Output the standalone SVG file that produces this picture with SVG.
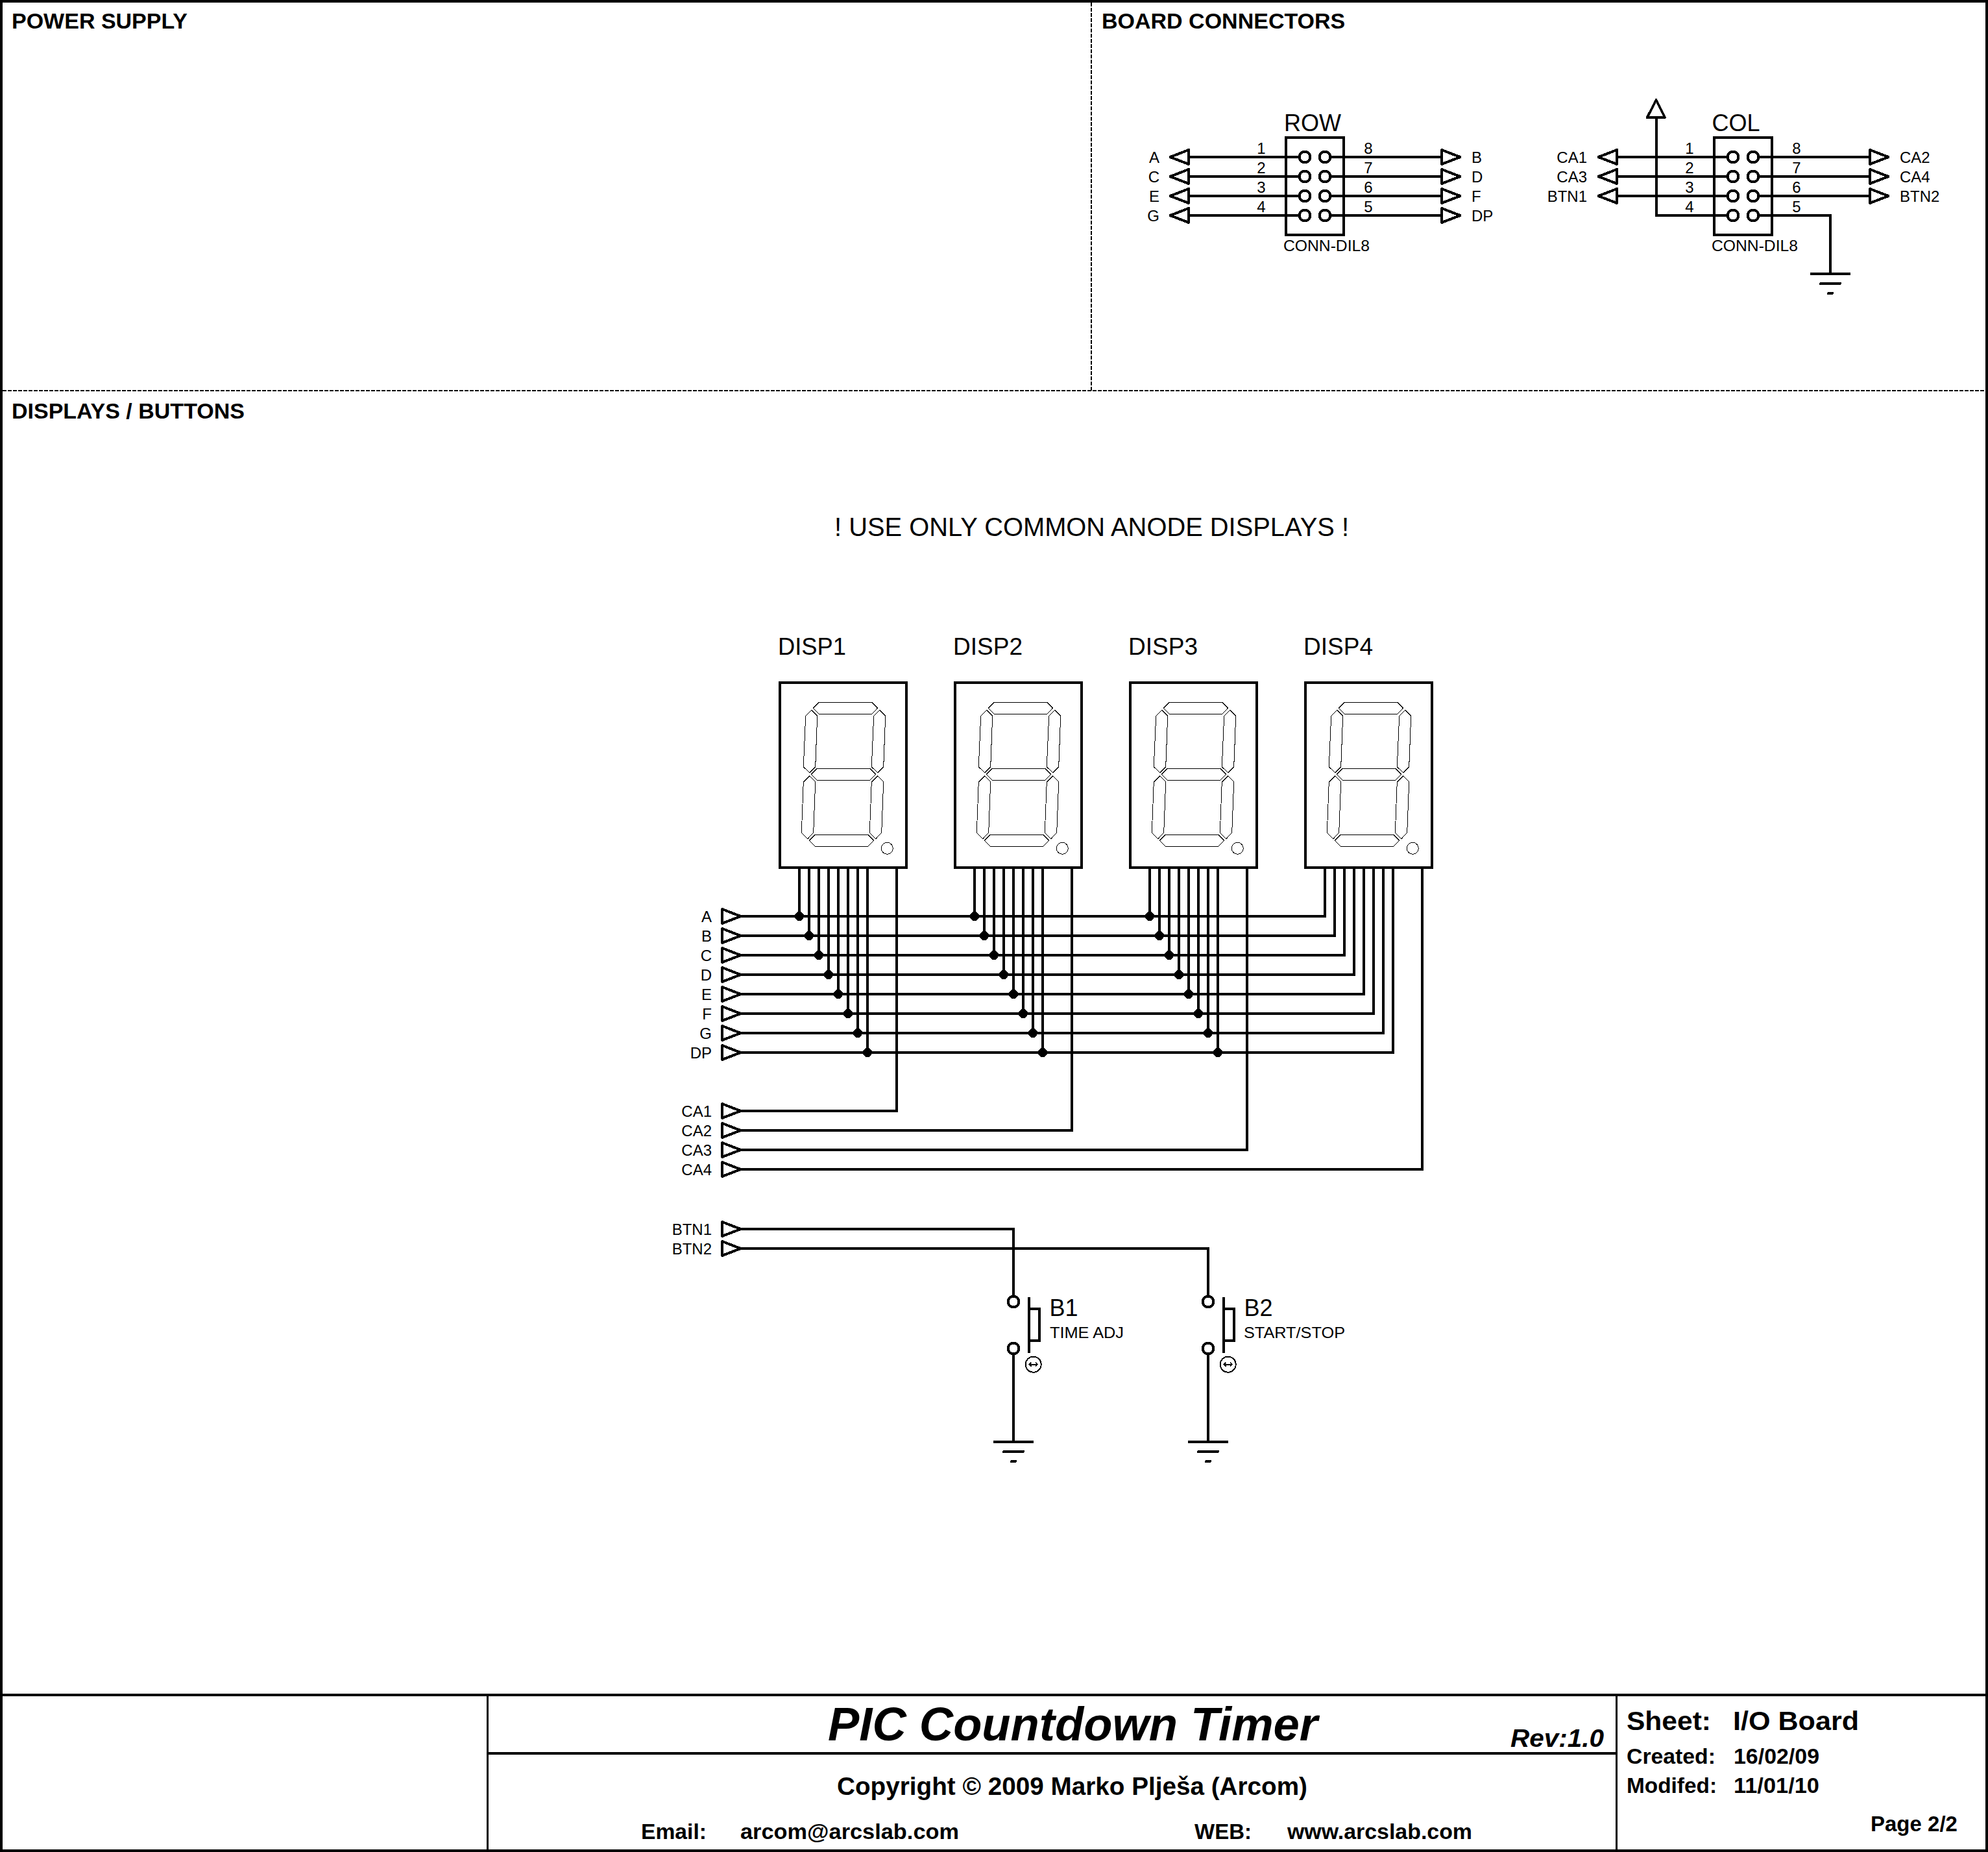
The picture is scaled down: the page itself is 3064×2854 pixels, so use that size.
<svg xmlns="http://www.w3.org/2000/svg" width="3064" height="2854" viewBox="0 0 3064 2854" shape-rendering="crispEdges">
<style>
text{font-family:"Liberation Sans",Arial,sans-serif;fill:#000}
.b{font-weight:bold}
.bi{font-weight:bold;font-style:italic}
.w{fill:none;stroke:#000;stroke-width:4}
.f{fill:none;stroke:#000;stroke-width:3}
.dash{fill:none;stroke:#000;stroke-width:1.5;stroke-dasharray:6 2}
.t{fill:#fff;stroke:#000;stroke-width:4;stroke-linejoin:round}
.p{fill:#fff;stroke:#000;stroke-width:4}
.s{fill:none;stroke:#000;stroke-width:1}
.d{fill:#000}
.g{stroke:#000;stroke-width:4;stroke-linecap:round}
.l24{font-size:24px}.l36{font-size:36px}.h{font-size:34px;font-weight:bold}
.e{text-anchor:end}.m{text-anchor:middle}
</style>
<defs>
<g id="segs" class="s">
<polygon points="1253.3,1091 1262.3,1082.3 1343.7,1082.3 1352.7,1091 1343.7,1100.3 1262.3,1100.3"/>
<polygon points="1250.7,1094.3 1259.7,1103.3 1256.7,1181.7 1247.7,1190.7 1238.3,1181.7 1241.7,1103.3"/>
<polygon points="1355.7,1094.3 1364.7,1103.3 1361.7,1181.7 1352.7,1190.7 1343.3,1181.7 1346.7,1103.3"/>
<polygon points="1250.3,1193.3 1259.3,1184.3 1340.7,1184.3 1349.7,1193.3 1340.7,1202.3 1259.3,1202.3"/>
<polygon points="1247.7,1196 1256.7,1205 1253.7,1283.3 1244.7,1292.7 1235.3,1283.3 1238.3,1205"/>
<polygon points="1352.7,1196 1361.7,1205 1358.7,1283.3 1349.7,1292.7 1340.3,1283.3 1343.3,1205"/>
<polygon points="1247.3,1295.3 1256.3,1286.3 1337.7,1286.3 1346.7,1295.3 1337.7,1304.3 1256.3,1304.3"/>
<circle cx="1367.3" cy="1307.3" r="9"/>
</g>
<path id="tr" class="t" d="M0 -11L28.5 0L0 11Z"/>
<path id="tl" class="t" d="M0 -11L-28.5 0L0 11Z"/>
<path id="gnd" class="g" d="M-29.5 0H29.5M-15 15H15M-3 30H3"/>
<g id="btnsym">
<circle class="p" cx="0" cy="-36" r="8.5"/>
<circle class="p" cx="0" cy="36" r="8.5"/>
<path class="w" d="M24 -43V43M24 -24.7H39.7V24H24"/>
<circle cx="30.7" cy="60.7" r="12" fill="none" stroke="#000" stroke-width="2"/>
<path fill="none" stroke="#000" stroke-width="1.8" d="M24.5 60.7H37M27.5 57.7L24.5 60.7L27.5 63.7M34 57.7L37 60.7L34 63.7"/>
</g>
</defs>

<g id="frame">
<path class="w" d="M2 2H3062V2852H2Z"/>
<path class="dash" d="M1682 4V602M4 602H3060"/>
<path class="w" d="M2 2612H3062M751 2702H2491"/>
<path class="f" d="M751 2612V2852M2491 2612V2852"/>
</g>

<g id="connectors">
<path class="w" d="M1832 242H2002M1832 272H2002M1832 302H2002M1832 332H2002M2051 242H2222M2051 272H2222M2051 302H2222M2051 332H2222"/>
<path class="w" d="M2492 242H2662M2492 272H2662M2492 302H2662"/>
<path class="w" d="M2552.5 181V332H2662"/>
<path class="w" d="M2711 242H2882M2711 272H2882M2711 302H2882M2711 332H2821V422"/>
<path class="w" d="M1141 1412H2042V1337M1141 1442H2057V1337M1141 1472H2072V1337M1141 1502H2087V1337M1141 1532H2102V1337M1141 1562H2117V1337M1141 1592H2132V1337M1141 1622H2147V1337"/>
<path class="w" d="M1232 1337V1412M1247 1337V1442M1262 1337V1472M1277 1337V1502M1292 1337V1532M1307 1337V1562M1322 1337V1592M1337 1337V1622"/>
<path class="w" d="M1502 1337V1412M1517 1337V1442M1532 1337V1472M1547 1337V1502M1562 1337V1532M1577 1337V1562M1592 1337V1592M1607 1337V1622"/>
<path class="w" d="M1772 1337V1412M1787 1337V1442M1802 1337V1472M1817 1337V1502M1832 1337V1532M1847 1337V1562M1862 1337V1592M1877 1337V1622"/>
<path class="w" d="M1141 1712H1382V1337M1141 1742H1652V1337M1141 1772H1922V1337M1141 1802H2192V1337"/>
<path class="w" d="M1141 1894H1562V1998M1141 1924H1862V1998M1562 2086V2222M1862 2086V2222"/>
<g class="d">
<circle cx="1232" cy="1412" r="7"/><circle cx="1247" cy="1442" r="7"/><circle cx="1262" cy="1472" r="7"/><circle cx="1277" cy="1502" r="7"/><circle cx="1292" cy="1532" r="7"/><circle cx="1307" cy="1562" r="7"/><circle cx="1322" cy="1592" r="7"/><circle cx="1337" cy="1622" r="7"/>
<circle cx="1502" cy="1412" r="7"/><circle cx="1517" cy="1442" r="7"/><circle cx="1532" cy="1472" r="7"/><circle cx="1547" cy="1502" r="7"/><circle cx="1562" cy="1532" r="7"/><circle cx="1577" cy="1562" r="7"/><circle cx="1592" cy="1592" r="7"/><circle cx="1607" cy="1622" r="7"/>
<circle cx="1772" cy="1412" r="7"/><circle cx="1787" cy="1442" r="7"/><circle cx="1802" cy="1472" r="7"/><circle cx="1817" cy="1502" r="7"/><circle cx="1832" cy="1532" r="7"/><circle cx="1847" cy="1562" r="7"/><circle cx="1862" cy="1592" r="7"/><circle cx="1877" cy="1622" r="7"/>
</g>
</g>

<g id="section-labels">
<text class="h" x="18" y="44">POWER SUPPLY</text>
<text class="h" x="1698" y="44">BOARD CONNECTORS</text>
<text class="h" x="18" y="645">DISPLAYS / BUTTONS</text>
<text x="1286" y="826" font-size="40" textLength="793" lengthAdjust="spacingAndGlyphs">! USE ONLY COMMON ANODE DISPLAYS !</text>
</g>

<g id="ROW">
<rect x="1982" y="212" width="89" height="150" fill="none" stroke="#000" stroke-width="4"/>
<circle class="p" cx="2011" cy="242" r="8.5"/><circle class="p" cx="2011" cy="272" r="8.5"/><circle class="p" cx="2011" cy="302" r="8.5"/><circle class="p" cx="2011" cy="332" r="8.5"/>
<circle class="p" cx="2042" cy="242" r="8.5"/><circle class="p" cx="2042" cy="272" r="8.5"/><circle class="p" cx="2042" cy="302" r="8.5"/><circle class="p" cx="2042" cy="332" r="8.5"/>
<text class="l36" x="1979" y="202">ROW</text>
<text class="l24" x="1978" y="387" textLength="133" lengthAdjust="spacingAndGlyphs">CONN-DIL8</text>
<g class="l24 m"><text x="1944" y="237">1</text><text x="1944" y="267">2</text><text x="1944" y="297">3</text><text x="1944" y="327">4</text><text x="2109" y="237">8</text><text x="2109" y="267">7</text><text x="2109" y="297">6</text><text x="2109" y="327">5</text></g>
</g>
<g id="ROW-terminals">
<use href="#tl" x="1832" y="242"/><use href="#tl" x="1832" y="272"/><use href="#tl" x="1832" y="302"/><use href="#tl" x="1832" y="332"/>
<use href="#tr" x="2222" y="242"/><use href="#tr" x="2222" y="272"/><use href="#tr" x="2222" y="302"/><use href="#tr" x="2222" y="332"/>
<g class="l24 e"><text x="1787" y="251">A</text><text x="1787" y="281">C</text><text x="1787" y="311">E</text><text x="1787" y="341">G</text></g>
<g class="l24"><text x="2268" y="251">B</text><text x="2268" y="281">D</text><text x="2268" y="311">F</text><text x="2268" y="341">DP</text></g>
</g>

<g id="COL">
<rect x="2642" y="212" width="89" height="150" fill="none" stroke="#000" stroke-width="4"/>
<circle class="p" cx="2671" cy="242" r="8.5"/><circle class="p" cx="2671" cy="272" r="8.5"/><circle class="p" cx="2671" cy="302" r="8.5"/><circle class="p" cx="2671" cy="332" r="8.5"/>
<circle class="p" cx="2702" cy="242" r="8.5"/><circle class="p" cx="2702" cy="272" r="8.5"/><circle class="p" cx="2702" cy="302" r="8.5"/><circle class="p" cx="2702" cy="332" r="8.5"/>
<text class="l36" x="2638.5" y="202">COL</text>
<text class="l24" x="2638" y="387" textLength="133" lengthAdjust="spacingAndGlyphs">CONN-DIL8</text>
<g class="l24 m"><text x="2604" y="237">1</text><text x="2604" y="267">2</text><text x="2604" y="297">3</text><text x="2604" y="327">4</text><text x="2769" y="237">8</text><text x="2769" y="267">7</text><text x="2769" y="297">6</text><text x="2769" y="327">5</text></g>
</g>
<g id="COL-terminals">
<use href="#tl" x="2492" y="242"/><use href="#tl" x="2492" y="272"/><use href="#tl" x="2492" y="302"/>
<use href="#tr" x="2882" y="242"/><use href="#tr" x="2882" y="272"/><use href="#tr" x="2882" y="302"/>
<path class="t" d="M2539 181L2552.5 154L2566 181Z"/>
<g class="l24 e"><text x="2446" y="251">CA1</text><text x="2446" y="281">CA3</text><text x="2446" y="311">BTN1</text></g>
<g class="l24"><text x="2928" y="251">CA2</text><text x="2928" y="281">CA4</text><text x="2928" y="311">BTN2</text></g>
<use href="#gnd" x="2821" y="422"/>
</g>

<g id="DISP1">
<rect x="1202" y="1052" width="195" height="285" fill="#fff" stroke="#000" stroke-width="4"/>
<use href="#segs"/>
<text class="l36" x="1199" y="1009" textLength="105" lengthAdjust="spacingAndGlyphs">DISP1</text>
</g>
<g id="DISP2">
<rect x="1472" y="1052" width="195" height="285" fill="#fff" stroke="#000" stroke-width="4"/>
<use href="#segs" x="270"/>
<text class="l36" x="1469" y="1009" textLength="107" lengthAdjust="spacingAndGlyphs">DISP2</text>
</g>
<g id="DISP3">
<rect x="1742" y="1052" width="195" height="285" fill="#fff" stroke="#000" stroke-width="4"/>
<use href="#segs" x="540"/>
<text class="l36" x="1739" y="1009" textLength="107" lengthAdjust="spacingAndGlyphs">DISP3</text>
</g>
<g id="DISP4">
<rect x="2012" y="1052" width="195" height="285" fill="#fff" stroke="#000" stroke-width="4"/>
<use href="#segs" x="810"/>
<text class="l36" x="2009" y="1009" textLength="107" lengthAdjust="spacingAndGlyphs">DISP4</text>
</g>

<g id="terminals">
<use href="#tr" x="1113" y="1412"/><use href="#tr" x="1113" y="1442"/><use href="#tr" x="1113" y="1472"/><use href="#tr" x="1113" y="1502"/><use href="#tr" x="1113" y="1532"/><use href="#tr" x="1113" y="1562"/><use href="#tr" x="1113" y="1592"/><use href="#tr" x="1113" y="1622"/>
<use href="#tr" x="1113" y="1712"/><use href="#tr" x="1113" y="1742"/><use href="#tr" x="1113" y="1772"/><use href="#tr" x="1113" y="1802"/>
<use href="#tr" x="1113" y="1894"/><use href="#tr" x="1113" y="1924"/>
<g class="l24 e">
<text x="1097" y="1421">A</text><text x="1097" y="1451">B</text><text x="1097" y="1481">C</text><text x="1097" y="1511">D</text><text x="1097" y="1541">E</text><text x="1097" y="1571">F</text><text x="1097" y="1601">G</text><text x="1097" y="1631">DP</text>
<text x="1097" y="1721">CA1</text><text x="1097" y="1751">CA2</text><text x="1097" y="1781">CA3</text><text x="1097" y="1811">CA4</text>
<text x="1097" y="1903">BTN1</text><text x="1097" y="1933">BTN2</text>
</g>
</g>

<g id="B1">
<use href="#btnsym" x="1562" y="2042"/>
<text class="l36" x="1617.5" y="2028">B1</text>
<text class="l24" x="1618" y="2062" textLength="114" lengthAdjust="spacingAndGlyphs">TIME ADJ</text>
<use href="#gnd" x="1562" y="2222"/>
</g>
<g id="B2">
<use href="#btnsym" x="1862" y="2042"/>
<text class="l36" x="1917.5" y="2028">B2</text>
<text class="l24" x="1917" y="2062" textLength="156" lengthAdjust="spacingAndGlyphs">START/STOP</text>
<use href="#gnd" x="1862" y="2222"/>
</g>

<g id="title-block">
<text class="bi" x="1276" y="2682" font-size="72" textLength="755" lengthAdjust="spacingAndGlyphs">PIC Countdown Timer</text>
<text class="bi" x="2328" y="2692" font-size="38" textLength="144" lengthAdjust="spacingAndGlyphs">Rev:1.0</text>
<text class="b" x="1290" y="2766" font-size="38" textLength="725" lengthAdjust="spacingAndGlyphs">Copyright © 2009 Marko Plješa (Arcom)</text>
<text class="b" x="988" y="2834" font-size="33" textLength="101" lengthAdjust="spacingAndGlyphs">Email:</text>
<text class="b" x="1141" y="2834" font-size="34" textLength="337" lengthAdjust="spacingAndGlyphs">arcom@arcslab.com</text>
<text class="b" x="1841" y="2834" font-size="33">WEB:</text>
<text class="b" x="1984" y="2834" font-size="33.5" textLength="285" lengthAdjust="spacingAndGlyphs">www.arcslab.com</text>
<text class="b" x="2507" y="2666" font-size="41" textLength="130" lengthAdjust="spacingAndGlyphs">Sheet:</text>
<text class="b" x="2671" y="2666" font-size="41" textLength="194" lengthAdjust="spacingAndGlyphs">I/O Board</text>
<text class="b" x="2507" y="2718" font-size="34" textLength="137" lengthAdjust="spacingAndGlyphs">Created:</text>
<text class="b" x="2672" y="2718" font-size="33" textLength="132" lengthAdjust="spacingAndGlyphs">16/02/09</text>
<text class="b" x="2507" y="2763" font-size="34" textLength="139" lengthAdjust="spacingAndGlyphs">Modifed:</text>
<text class="b" x="2672" y="2763" font-size="33" textLength="132" lengthAdjust="spacingAndGlyphs">11/01/10</text>
<text class="b" x="2883" y="2822" font-size="33">Page 2/2</text>
</g>
</svg>
